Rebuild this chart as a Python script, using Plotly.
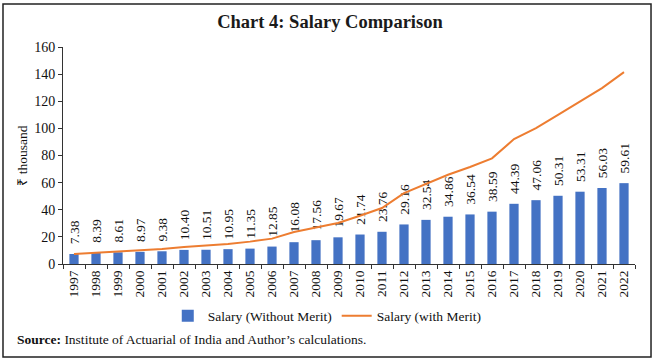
import plotly.graph_objects as go

years = [str(y) for y in range(1997, 2023)]
salary_without_merit = [7.38, 8.39, 8.61, 8.97, 9.38, 10.40, 10.51, 10.95, 11.35, 12.85,
                        16.08, 17.56, 19.67, 21.74, 23.76, 29.16, 32.54, 34.86, 36.54, 38.59,
                        44.39, 47.06, 50.31, 53.31, 56.03, 59.61]
salary_with_merit = [7.4, 8.6, 9.3, 10.1, 11.0, 12.5, 13.5, 14.7, 16.5, 18.7,
                     23.6, 27.0, 30.2, 35.6, 41.3, 52.3, 59.2, 65.8, 71.5, 77.9,
                     92.1, 100.2, 110.0, 119.9, 129.7, 141.5]
y_ticks = [0, 20, 40, 60, 80, 100, 120, 140, 160]

FONT = "Liberation Serif"
BAR_COLOR = "#4472C4"
LINE_COLOR = "#ED7D31"

fig = go.Figure()
fig.add_trace(go.Bar(
    x=years, y=salary_without_merit, name="Salary (Without Merit)",
    marker=dict(color=BAR_COLOR, line=dict(width=0)), width=0.42,
    text=[f"\u00a0\u00a0{v:.2f}" for v in salary_without_merit],
    textposition="outside", textangle=-90, constraintext="none", cliponaxis=False,
    textfont=dict(family=FONT, size=13.5, color="#111111"),
))
fig.add_trace(go.Scatter(
    x=years, y=salary_with_merit, name="Salary (with Merit)", mode="lines",
    line=dict(color=LINE_COLOR, width=2),
))

fig.add_annotation(
    xref="paper", yref="paper", x=-0.084, y=-0.346, xanchor="left", yanchor="middle",
    showarrow=False, text="<b>Source:</b> Institute of Actuarial of India and Author’s calculations.",
    font=dict(family=FONT, size=13.5, color="#111111"),
)

fig.add_shape(
    type="rect", xref="paper", yref="paper", x0=-0.1049, x1=1.028, y0=-0.4286, y1=1.198,
    line=dict(color="#222222", width=1.5), fillcolor="rgba(0,0,0,0)", layer="above",
)

fig.update_layout(
    width=656, height=362,
    margin=dict(l=63, r=21, t=47, b=98),
    paper_bgcolor="white", plot_bgcolor="white",
    font=dict(family=FONT, size=13.5, color="#111111"),
    title=dict(text="<b>Chart 4: Salary Comparison</b>", x=0.503, xref="container", xanchor="center",
               y=1 - 22 / 362, yanchor="middle", font=dict(family=FONT, size=18.5, color="#1a1a1a")),
    showlegend=True,
    legend=dict(orientation="h", x=0.462, xanchor="center", y=-0.24, yanchor="middle",
                font=dict(family=FONT, size=13.5), bgcolor="rgba(0,0,0,0)", tracegroupgap=0,
                itemwidth=30),
    bargap=0.58,
)
fig.update_xaxes(
    type="category", tickangle=-90, showline=True, linecolor="#333333", linewidth=1,
    ticks="outside", ticklen=4, tickcolor="#333333", tickson="boundaries",
    showgrid=False, tickfont=dict(family=FONT, size=13.5), range=[-0.5, 25.5],
)
fig.update_yaxes(
    range=[0, 160], tickvals=y_ticks, showline=True, linecolor="#333333", linewidth=1,
    ticks="outside", ticklen=4, tickcolor="#333333", showgrid=False, zeroline=False,
    tickfont=dict(family=FONT, size=14),
    title=dict(text="₹ thousand", font=dict(family=FONT, size=13.5), standoff=3),
)

fig.write_html("out.html", config={"displayModeBar": False},
               post_script="document.body.style.margin='0';")
